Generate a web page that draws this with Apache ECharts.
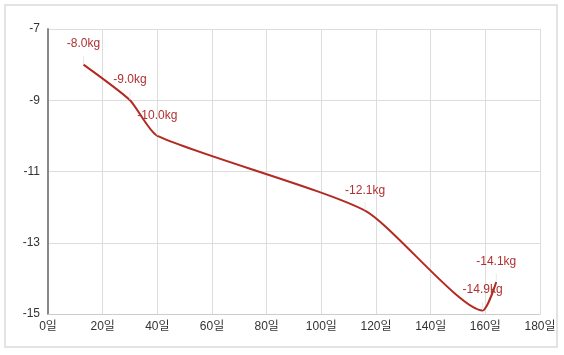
<!DOCTYPE html>
<html><head><meta charset="utf-8">
<script src="https://cdn.jsdelivr.net/npm/echarts@6/dist/echarts.min.js"></script>
<style>html,body{margin:0;padding:0;background:#fff}#c{width:564px;height:355px}</style>
</head><body><div id="c"></div>
<script>
const days = [13, 30, 40, 116, 159, 164];
const weights = [-8.0, -9.0, -10.0, -12.1, -14.9, -14.1];
const xTicks = [0, 20, 40, 60, 80, 100, 120, 140, 160, 180];
const yTicks = [-15, -13, -11, -9, -7];

const chart = echarts.init(document.getElementById('c'));
chart.setOption({
  animation: false,
  graphic: [{type: 'rect', shape: {x: 5, y: 5, width: 552, height: 342}, style: {fill: 'none', stroke: '#e3e3e3', lineWidth: 2}, silent: true}],
  grid: {left: 48, right: 24, top: 29, bottom: 41},
  xAxis: {
    type: 'value', min: 0, max: 180, interval: 20,
    axisLine: {show: true, lineStyle: {color: '#ccc'}},
    axisTick: {show: false},
    splitLine: {show: true, lineStyle: {color: '#ddd', width: 1}},
    axisLabel: {color: '#333', fontSize: 12, fontFamily: 'Liberation Sans, Noto Sans CJK KR', margin: 7,
      formatter: v => v + '일'}
  },
  yAxis: {
    type: 'value', min: -15, max: -7, interval: 2,
    axisLine: {show: true, lineStyle: {color: '#888', width: 2}},
    axisTick: {show: false},
    splitLine: {show: true, lineStyle: {color: '#ddd', width: 1}},
    axisLabel: {color: '#333', fontSize: 12, fontFamily: 'Liberation Sans', margin: 8}
  },
  series: [{
    type: 'line',
    data: days.map((d, i) => [d, weights[i]]),
    smooth: 0.2,
    symbol: 'circle', symbolSize: 1,
    itemStyle: {color: 'rgba(0,0,0,0)'},
    lineStyle: {color: '#b22a22', width: 2},
    label: {show: true, position: 'top', distance: 14, color: '#b03030', fontSize: 12,
      fontFamily: 'Liberation Sans', formatter: p => p.value[1].toFixed(1) + 'kg'},
    labelLine: {show: true, lineStyle: {color: '#e8e8e8', width: 1}}
  }]
});
</script></body></html>
